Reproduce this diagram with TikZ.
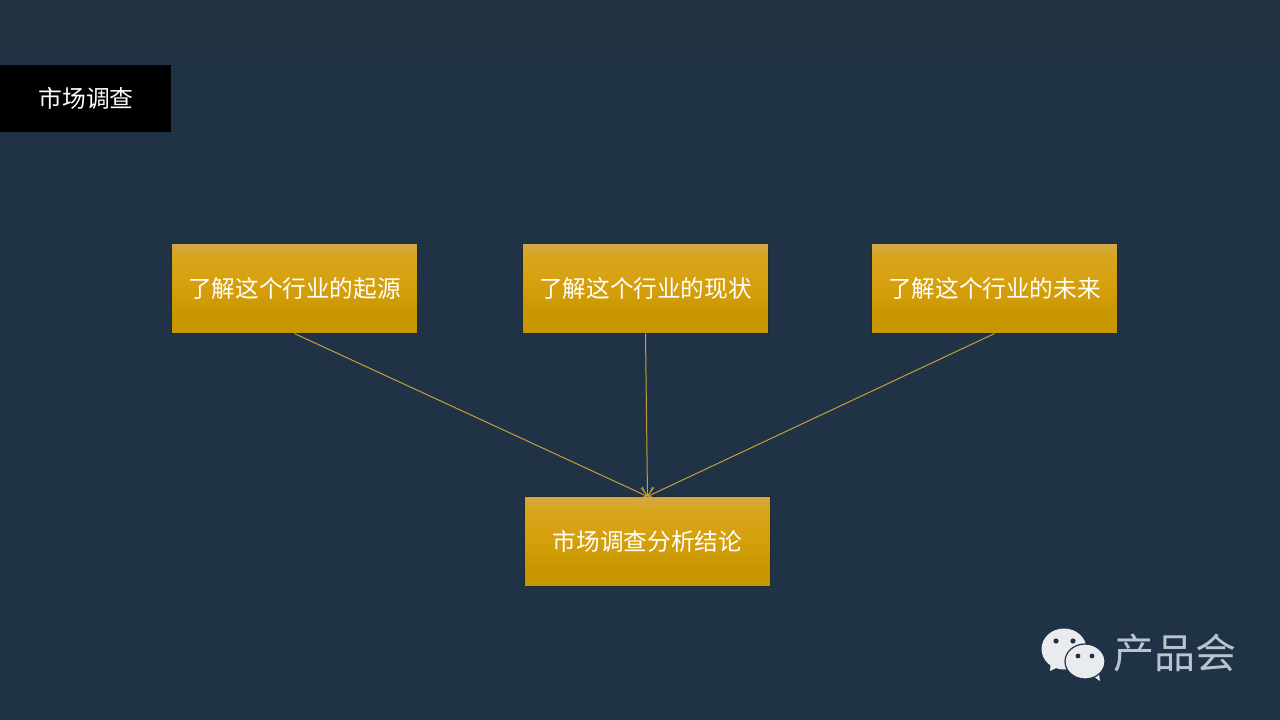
\documentclass[tikz,border=0pt]{standalone}
\usepackage{fontspec}
\setmainfont{Noto Sans CJK SC}
\usetikzlibrary{arrows.meta,shapes.geometric}
\definecolor{bgc}{HTML}{203246}
\definecolor{bgtop}{HTML}{23333F}
\definecolor{goldtop}{HTML}{D4A848}
\definecolor{goldhi}{HTML}{D8A41E}
\definecolor{goldmid}{HTML}{D6A00C}
\definecolor{goldbot}{HTML}{C89700}
\definecolor{edgec}{HTML}{232B2C}
\definecolor{linkc}{HTML}{C2A035}
\definecolor{logoc}{HTML}{E9EBEE}
\definecolor{logotxt}{HTML}{B9C4CF}
\pgfdeclareverticalshading{goldshade}{100bp}{color(0bp)=(goldbot); color(25bp)=(goldbot); color(36bp)=(goldbot); color(52bp)=(goldmid); color(68bp)=(goldhi); color(75bp)=(goldtop); color(100bp)=(goldtop)}
\tikzset{
  x=1pt,y=-1pt,
  goldbox/.style={minimum width=246.4pt,minimum height=89.4pt,inner sep=0pt,text=white,
    font=\fontsize{23.65pt}{28pt}\selectfont,draw=edgec,line width=0.7pt,shading=goldshade},
  titlebox/.style={fill=black,minimum width=171pt,minimum height=67pt,inner sep=0pt,text=white,
    font=\fontsize{23.8pt}{28pt}\selectfont},
  link/.style={draw=linkc,line width=1pt,-{Straight Barb[length=8pt,width=13pt,line width=0.9pt]}},
  logotext/.style={text=logotxt,inner sep=0pt,font=\fontsize{41pt}{46pt}\selectfont},
  bubble/.style={fill=logoc,draw=bgc,line width=1.2pt},
  tail/.style={fill=logoc},
  eye/.style={fill=bgc}
}
\begin{document}
\begin{tikzpicture}
\useasboundingbox (0,0) rectangle (1280,720);
\fill[bgc] (0,0) rectangle (1280,720);
\shade[top color=bgtop,bottom color=bgc] (0,0) rectangle (1280,80);
\node[titlebox] (title) at (85.5,98.5) {\hspace{1pt}市场调查};
\node[goldbox] (a) at (294.5,288.5) {了解这个行业的起源};
\node[goldbox] (b) at (645.5,288.5) {了解这个行业的现状};
\node[goldbox] (c) at (994.5,288.5) {了解这个行业的未来};
\node[goldbox] (d) at (647.5,541.5) {市场调查分析结论};
\draw[link] (a.south) -- (d.north);
\draw[link] (b.south) -- (d.north);
\draw[link] (c.south) -- (d.north);
% logo
\fill[tail] (1051,660) -- (1050,671) -- (1064,664) -- cycle;
\node[ellipse,fill=logoc,minimum width=45pt,minimum height=41pt,inner sep=0pt] (bub1) at (1064,649) {};
\fill[tail] (1090,674) -- (1100,681) -- (1098,668) -- cycle;
\node[ellipse,bubble,minimum width=40pt,minimum height=35pt,inner sep=0pt] (bub2) at (1085,661.5) {};
\fill[eye] (1056,641) circle (2.6);
\fill[eye] (1073,641) circle (2.6);
\fill[eye] (1078,656) circle (2.4);
\fill[eye] (1092,656) circle (2.4);
\node[logotext] (logo) at (1174.5,653) {产品会};
\end{tikzpicture}
\end{document}
